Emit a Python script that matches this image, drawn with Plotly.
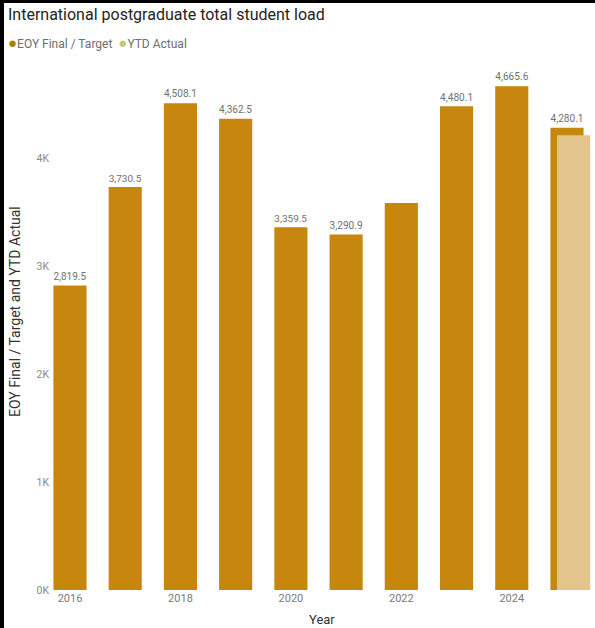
import plotly.graph_objects as go

years = [2016, 2017, 2018, 2019, 2020, 2021, 2022, 2023, 2024, 2025]
eoy_target = [2819.5, 3730.5, 4508.1, 4362.5, 3359.5, 3290.9, 3583.0, 4480.1, 4665.6, 4280.1]
ytd_actual = [None, None, None, None, None, None, None, None, None, 4210.0]
eoy_labels = ["2,819.5", "3,730.5", "4,508.1", "4,362.5", "3,359.5", "3,290.9", "",
              "4,480.1", "4,665.6", "4,280.1"]
y_tickvals = [0, 1000, 2000, 3000, 4000]
y_ticktext = ["0K", "1K", "2K", "3K", "4K"]

EOY_COLOR = "#C7860E"
YTD_COLOR = "#E2C48C"
EOY_DOT = "#A88208"
YTD_DOT = "#C9C77C"

W, H = 595, 628
ML, MR, MT, MB = 50, 0, 62, 38
PW = W - ML - MR
PH = H - MT - MB


def px_x(p):
    return (p - ML) / PW


def px_y(p):
    return 1 - (p - MT) / PH


fig = go.Figure()
fig.add_trace(go.Bar(
    x=years, y=eoy_target, width=0.6, marker_color=EOY_COLOR, marker_line_width=0,
    text=eoy_labels, textposition="outside", cliponaxis=False,
    textfont=dict(family="Roboto", size=11.5, color="#707070"),
    showlegend=False, name="EOY Final / Target",
))
fig.add_trace(go.Bar(
    x=years, y=ytd_actual, width=0.6, offset=-0.18, marker_color=YTD_COLOR,
    marker_line_width=0, showlegend=False, name="YTD Actual",
))

shapes = [
    dict(type="rect", xref="paper", yref="paper", x0=px_x(0), x1=px_x(4),
         y0=px_y(H), y1=px_y(0), fillcolor="black", line_width=0, layer="above"),
    dict(type="rect", xref="paper", yref="paper", x0=px_x(0), x1=px_x(W),
         y0=px_y(3), y1=px_y(0), fillcolor="black", line_width=0, layer="above"),
]

annotations = [
    dict(xref="paper", yref="paper", x=px_x(6), y=px_y(43), xanchor="left", yanchor="middle",
         showarrow=False,
         text=(f"<span style='color:{EOY_DOT};font-size:15px'>●</span>EOY Final / Target"
               f"&nbsp;&nbsp;<span style='color:{YTD_DOT};font-size:15px'>●</span>YTD Actual"),
         font=dict(family="Roboto", size=12, color="#6E6E6E")),
    dict(xref="paper", yref="paper", x=px_x(15), y=px_y(312), xanchor="center",
         yanchor="middle", showarrow=False, textangle=-90,
         text="EOY Final / Target and YTD Actual",
         font=dict(family="Roboto", size=14, color="#333333")),
    dict(xref="paper", yref="paper", x=px_x(322), y=px_y(619), xanchor="center",
         yanchor="middle", showarrow=False, text="Year",
         font=dict(family="Roboto", size=13, color="#333333")),
]

fig.update_layout(
    width=W, height=H,
    margin=dict(l=ML, r=MR, t=MT, b=MB),
    paper_bgcolor="white", plot_bgcolor="white",
    barmode="overlay",
    showlegend=False,
    title=dict(text="International postgraduate total student load",
               x=8 / W, xanchor="left", y=1 - 14 / H, yanchor="middle",
               font=dict(family="Roboto", size=16, color="#252423")),
    xaxis=dict(range=[2015.638, 2025.507], tickmode="linear", tick0=2016, dtick=2,
               showgrid=False, zeroline=False, showline=False, ticks="",
               tickfont=dict(family="Roboto", size=11, color="#7A7A7A")),
    yaxis=dict(range=[0, 4889], tickvals=y_tickvals, ticktext=y_ticktext,
               showgrid=False, zeroline=False, showline=False, ticks="",
               tickfont=dict(family="Roboto", size=10.5, color="#8A8A8A")),
    shapes=shapes,
    annotations=annotations,
)

fig.write_html("out.html")
